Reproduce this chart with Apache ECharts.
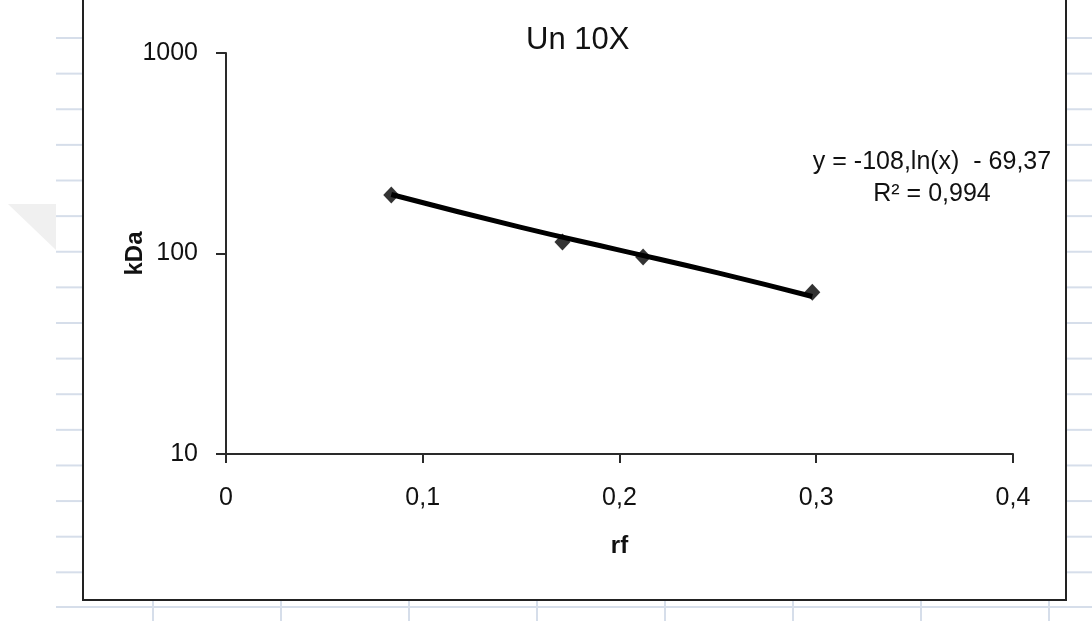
<!DOCTYPE html>
<html>
<head>
<meta charset="utf-8">
<script src="https://cdn.jsdelivr.net/npm/echarts@6/dist/echarts.min.js"></script>
<style>
  html, body { margin: 0; padding: 0; background: #fff; }
  #main { width: 1092px; height: 621px; }
</style>
</head>
<body>
<div id="main"></div>
<script>
// measured points (rf, kDa)
const rf = [0.084, 0.171, 0.212, 0.298];
const kDa = [196, 114, 96, 64];
// log trendline as drawn
const trendRf = [0.084, 0.15, 0.2, 0.25, 0.298];
const trendKDa = [197, 135, 104, 80, 61];
const xTicks = [0, 0.1, 0.2, 0.3, 0.4];
const yTicks = [10, 100, 1000];
const equation = ["y = -108,ln(x)  - 69,37", "R\u00b2 = 0,994"];

const font = "'Liberation Sans', Arial, sans-serif";
const ink = "#111";
const axisColor = "#2a2a2a";
const cellLine = "#d6deea";

// spreadsheet cells around the embedded chart
function sheetLines() {
  var out = [];
  for (var k = 1; k <= 16; k++) {
    var y = 2.4 + 35.62 * k;
    out.push({ type: "line", shape: { x1: 56, y1: y, x2: 83, y2: y }, style: { stroke: cellLine, lineWidth: 2 } });
    out.push({ type: "line", shape: { x1: 1067, y1: y, x2: 1092, y2: y }, style: { stroke: cellLine, lineWidth: 2 } });
  }
  out.push({ type: "line", shape: { x1: 56, y1: 607, x2: 1092, y2: 607 }, style: { stroke: cellLine, lineWidth: 2 } });
  for (var j = 0; j < 8; j++) {
    var x = 153 + 128 * j;
    out.push({ type: "line", shape: { x1: x, y1: 601, x2: x, y2: 621 }, style: { stroke: cellLine, lineWidth: 2 } });
  }
  out.push({ type: "polygon", shape: { points: [[8, 204], [56, 204], [56, 250]] }, style: { fill: "#f0f0f0" } });
  out.push({ type: "rect", shape: { x: 83, y: -10, width: 983, height: 610 }, style: { fill: "none", stroke: "#222", lineWidth: 2 } });
  return out;
}

var options = {
  backgroundColor: "#fff",
  animation: false,
  title: {
    text: "Un 10X",
    left: 521,
    top: 20,
    textStyle: { fontFamily: font, fontSize: 31, fontWeight: "normal", color: ink }
  },
  grid: { left: 226, right: 79, top: 53, bottom: 167 },
  xAxis: {
    type: "value",
    min: 0,
    max: 0.4,
    interval: 0.1,
    name: "rf",
    nameLocation: "middle",
    nameGap: 80,
    nameTextStyle: { fontFamily: font, fontSize: 24, fontWeight: "bold", color: ink },
    axisLine: { show: true, lineStyle: { color: axisColor, width: 2 } },
    axisTick: { show: true, inside: false, length: 9, lineStyle: { color: axisColor, width: 2 } },
    axisLabel: {
      margin: 32,
      fontFamily: font, fontSize: 25, color: ink,
      formatter: function (v) {
        var t = xTicks.find(function (s) { return Math.abs(s - v) < 1e-9; });
        return t === undefined ? "" : String(t).replace(".", ",");
      }
    },
    splitLine: { show: false }
  },
  yAxis: {
    type: "log",
    logBase: 10,
    min: yTicks[0],
    max: yTicks[yTicks.length - 1],
    name: "kDa",
    nameLocation: "middle",
    nameRotate: 90,
    nameGap: 79,
    nameMoveOverlap: false,
    nameTextStyle: { fontFamily: font, fontSize: 24, fontWeight: "bold", color: ink },
    axisLine: { show: true, lineStyle: { color: axisColor, width: 2 } },
    axisTick: { show: true, inside: false, length: 10, lineStyle: { color: axisColor, width: 2 } },
    axisLabel: {
      margin: 28, fontFamily: font, fontSize: 25, color: ink,
      formatter: function (v) { return String(Math.round(v)); }
    },
    minorTick: { show: false },
    splitLine: { show: false }
  },
  graphic: sheetLines().concat([
    {
      type: "text",
      x: 932,
      y: 146,
      style: {
        text: equation.join("\n"),
        font: "25px " + font,
        fill: ink,
        align: "center",
        lineHeight: 32
      }
    }
  ]),
  series: [
    {
      type: "line",
      data: trendRf.map(function (x, i) { return [x, trendKDa[i]]; }),
      showSymbol: false,
      smooth: true,
      lineStyle: { color: "#000", width: 5 },
      z: 2
    },
    {
      type: "scatter",
      data: rf.map(function (x, i) { return [x, kDa[i]]; }),
      symbol: "diamond",
      symbolSize: [16, 17],
      itemStyle: { color: "#000" },
      z: 3
    }
  ]
};

var myChart = echarts.init(document.getElementById("main"));
myChart.setOption(options);
</script>
</body>
</html>
